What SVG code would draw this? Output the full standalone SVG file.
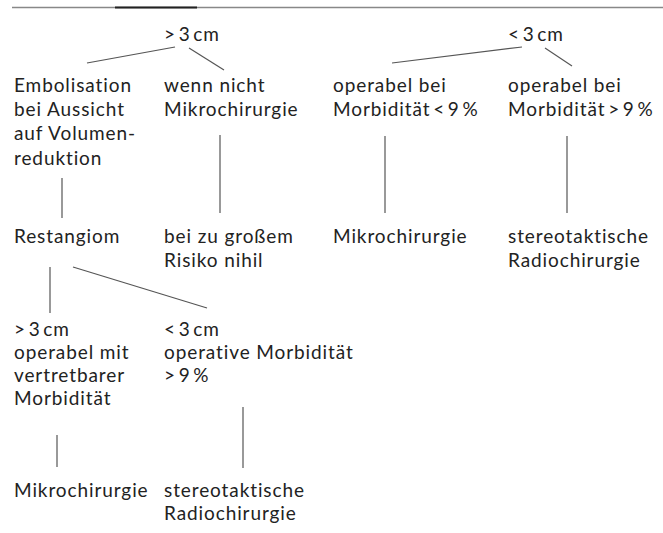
<svg xmlns="http://www.w3.org/2000/svg" width="663" height="533" viewBox="0 0 663 533">
<style>
text{font-family:Lato,"Open Sans","DejaVu Sans",sans-serif;font-size:19px;letter-spacing:0.9px;fill:#222}
.t{word-spacing:-3px}
.c line{stroke:#555;stroke-width:1.2}
</style>
<rect width="663" height="533" fill="#fff"/>
<g id="rule">
<line x1="12" y1="7.5" x2="663" y2="7.5" stroke="#888" stroke-width="1.5"/>
<line x1="115" y1="7.5" x2="197" y2="7.5" stroke="#222" stroke-width="2"/>
</g>
<g class="c" id="connectors">
<line x1="175" y1="47" x2="87" y2="63"/>
<line x1="189" y1="48" x2="224" y2="70"/>
<line x1="522" y1="47" x2="392" y2="63"/>
<line x1="545" y1="48" x2="572" y2="66"/>
<line x1="220" y1="135" x2="220" y2="213"/>
<line x1="385" y1="136" x2="385" y2="213"/>
<line x1="567" y1="136" x2="567" y2="213"/>
<line x1="62" y1="178" x2="62" y2="218"/>
<line x1="50" y1="267" x2="50" y2="313"/>
<line x1="73" y1="267" x2="207" y2="308"/>
<line x1="57" y1="435" x2="57" y2="467"/>
<line x1="243" y1="407" x2="243" y2="468"/>
</g>
<g id="n_gt3"><text class="t" x="164" y="41">&gt; 3 cm</text></g>
<g id="n_lt3"><text class="t" x="508" y="41">&lt; 3 cm</text></g>
<g id="n_embol"><text x="14" y="92">Embolisation<tspan x="14" dy="24">bei Aussicht</tspan><tspan x="14" dy="24">auf Volumen-</tspan><tspan x="14" dy="25">reduktion</tspan></text></g>
<g id="n_wenn"><text x="164" y="92">wenn nicht<tspan x="164" dy="24">Mikrochirurgie</tspan></text></g>
<g id="n_op1"><text x="333" y="92">operabel bei<tspan class="t" x="333" dy="24">Morbidität &lt; 9 %</tspan></text></g>
<g id="n_op2"><text x="508" y="92">operabel bei<tspan class="t" x="508" dy="24">Morbidität &gt; 9 %</tspan></text></g>
<g id="n_rest"><text x="14" y="243">Restangiom</text></g>
<g id="n_risiko"><text x="164" y="243">bei zu großem<tspan x="164" dy="24">Risiko nihil</tspan></text></g>
<g id="n_mikro1"><text x="333" y="243">Mikrochirurgie</text></g>
<g id="n_stereo1"><text x="508" y="243">stereotaktische<tspan x="508" dy="24">Radiochirurgie</tspan></text></g>
<g id="n_gt3b"><text x="14" y="336"><tspan class="t">&gt; 3 cm</tspan><tspan x="14" dy="23">operabel mit</tspan><tspan x="14" dy="23">vertretbarer</tspan><tspan x="14" dy="23">Morbidität</tspan></text></g>
<g id="n_lt3b"><text x="164" y="336"><tspan class="t">&lt; 3 cm</tspan><tspan x="164" dy="23">operative Morbidität</tspan><tspan class="t" x="164" dy="23">&gt; 9 %</tspan></text></g>
<g id="n_mikro2"><text x="14" y="497">Mikrochirurgie</text></g>
<g id="n_stereo2"><text x="164" y="497">stereotaktische<tspan x="164" dy="23">Radiochirurgie</tspan></text></g>
</svg>
